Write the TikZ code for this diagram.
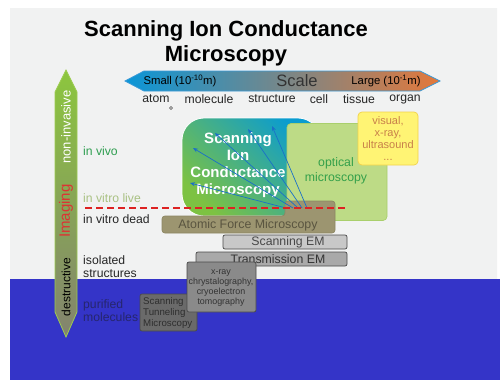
\documentclass[tikz,border=0pt]{standalone}
\usepackage{fontspec}
\setmainfont{Liberation Sans}
\usetikzlibrary{arrows.meta}
\definecolor{panelgray}{HTML}{F1F2F2}
\definecolor{bgblue}{HTML}{3434C8}
\definecolor{scaleblue}{HTML}{0A96D8}
\definecolor{scalemid}{HTML}{7C8A88}
\definecolor{scaleorange}{HTML}{E4783A}
\definecolor{scaleedge}{HTML}{3A9AD8}
\definecolor{vgreen}{HTML}{8CC63E}
\definecolor{vgray}{HTML}{83836F}
\definecolor{vedge}{HTML}{9CCC50}
\definecolor{sicmgreen}{HTML}{7DC242}
\definecolor{sicmblue}{HTML}{0A9CD0}
\definecolor{optfill}{HTML}{BDDB86}
\definecolor{optedge}{HTML}{A9CF6C}
\definecolor{opttext}{HTML}{34A04A}
\definecolor{visfill}{HTML}{FFF474}
\definecolor{visedge}{HTML}{F2D24A}
\definecolor{vistext}{HTML}{C8804A}
\definecolor{afmfill}{HTML}{9C9570}
\definecolor{afmedge}{HTML}{8C8662}
\definecolor{afmtext}{HTML}{5A5540}
\definecolor{arrowblue}{HTML}{1A70C8}
\definecolor{dashred}{HTML}{DD2222}
\definecolor{vivogreen}{HTML}{2E9E50}
\definecolor{livegreen}{HTML}{A9C183}
\definecolor{navytext}{HTML}{26266E}
\definecolor{imgred}{HTML}{DD3333}
\definecolor{semfill}{HTML}{C8C8C8}
\definecolor{temfill}{HTML}{A9A9A9}
\definecolor{xrayfill}{HTML}{8A8A8A}
\definecolor{stmfill}{HTML}{6A6A6A}
\definecolor{emedge}{HTML}{4A4A4A}
\begin{document}
\begin{tikzpicture}[x=1pt,y=-1pt,
  fsz/.style={font=\fontsize{#1}{#1}\selectfont},
  scalelbl/.style={fsz=12.2, text=black!85, inner sep=0pt},
  sidelbl/.style={font=\fontsize{12.2}{12.8}\selectfont, anchor=west, align=left, inner sep=0pt},
  emstyle/.style={draw=emedge, fill=#1, rounded corners=2, line width=0.7, inner sep=0pt},
  probe/.style={draw=arrowblue, line width=0.7, -{Stealth[length=5pt,width=4pt]}}
]
\useasboundingbox (0,0) rectangle (500,380);
\fill[white] (0,0) rectangle (500,380);
\fill[panelgray] (10,8) -- (497,8) [rounded corners=10] -- (497,290) [sharp corners] -- (10,290) -- cycle;
\fill[bgblue] (10,279) rectangle (500,380);

% title
\node[font=\bfseries\fontsize{22}{25}\selectfont, align=center, inner sep=0pt] (title) at (226,43) {Scanning Ion Conductance\\Microscopy};

% scale arrow
\path[left color=scaleblue, middle color=scalemid, right color=scaleorange, draw=scaleedge, line width=0.8]
  (125,81) -- (144,71) -- (420,71) -- (440,81) -- (420,91) -- (144,91) -- cycle;
\node[fsz=11.3, inner sep=0pt] (small) at (180,81) {Small (10\textsuperscript{-10}m)};
\node[fsz=16.5, text=black!80, inner sep=0pt] (scale) at (297,81) {Scale};
\node[fsz=11.3, inner sep=0pt] (large) at (386,81) {Large (10\textsuperscript{-1}m)};

\node[scalelbl] (atom) at (156,99) {atom};
\node[scalelbl] (molecule) at (209,99) {molecule};
\node[scalelbl] (structure) at (272,99) {structure};
\node[scalelbl] (cell) at (319,99) {cell};
\node[scalelbl] (tissue) at (359,99) {tissue};
\node[scalelbl] (organ) at (405,99) {organ};
\draw[black!70, line width=0.6] (171,108) circle (1.5);

% vertical arrow
\path[top color=vgreen, bottom color=vgray, draw=vedge, line width=0.8]
  (66,70) -- (77,92) -- (77,312) -- (66,337) -- (55,312) -- (55,92) -- cycle;
\node[fsz=13, text=white, rotate=90, inner sep=0pt] (noninv) at (66,127) {non-invasive};
\node[fsz=15, text=imgred, rotate=90, inner sep=0pt] (imaging) at (66,211) {Imaging};
\node[fsz=12, text=black, rotate=90, inner sep=0pt] (destr) at (66,287) {destructive};

% side labels
\node[sidelbl, text=vivogreen] (invivo) at (83,151) {in vivo};
\node[sidelbl, text=livegreen] (invitrolive) at (83,198) {in vitro live};
\node[sidelbl, text=black!85] (invitrodead) at (83,219) {in vitro dead};
\node[sidelbl, text=black!85] (isolated) at (83,267) {isolated\\structures};
\node[sidelbl, text=navytext] (purified) at (83,311) {purified\\molecules};

% SICM box
\node[rounded corners=22, left color=sicmgreen, right color=sicmblue, shading angle=135,
  draw=white, line width=0.8,
  minimum width=138, minimum height=98, inner sep=0pt] (sicm) at (251,167) {};
% optical
\node[rounded corners=4, fill=optfill, draw=optedge, line width=0.7,
  minimum width=100, minimum height=97, inner sep=0pt] (optical) at (337,172) {};
\node[text=opttext, align=center, font=\fontsize{12.3}{15}\selectfont, inner sep=0pt] (opticaltxt) at (336,171) {optical\\microscopy};
% visual
\node[rounded corners=4, fill=visfill, draw=visedge, line width=0.7,
  minimum width=60, minimum height=53, inner sep=0pt] (visual) at (388,138.5) {};
\node[font=\fontsize{11}{12}\selectfont, text=vistext, align=center, inner sep=0pt] (visualtxt) at (388,139) {visual,\\x-ray,\\ultrasound\\...};

% SICM text
\node[font=\bfseries\fontsize{15}{17}\selectfont, text=white, align=center, inner sep=0pt] (sicmtxt) at (238,165.5) {Scanning\\Ion\\Conductance\\Microscopy};

% AFM
\path[fill=afmfill, draw=afmedge, line width=0.7, rounded corners=3]
  (162,216) -- (285,216) -- (285,201) -- (335,201) -- (335,233) -- (162,233) -- cycle;
\node[fsz=12.4, text=afmtext, inner sep=0pt] (afm) at (248,225) {Atomic Force Microscopy};

% probe arrows
\coordinate (o1) at (286,208);
\coordinate (o2) at (293,208);
\coordinate (o3) at (298,208);
\coordinate (o4) at (302,208);
\coordinate (o5) at (307,208);
\coordinate (t1) at (190,183);
\coordinate (t2) at (193,148);
\coordinate (t3) at (215,133);
\coordinate (t4) at (248,129);
\coordinate (t5) at (272,126);
\draw[probe] (o1) -- (t1);
\draw[probe] (o2) -- (t2);
\draw[probe] (o3) -- (t3);
\draw[probe] (o4) -- (t4);
\draw[probe] (o5) -- (t5);

% red dashed line
\coordinate (d1) at (85,208);
\coordinate (d2) at (347,208);
\draw[dashred, line width=1.4, dash pattern=on 6.5pt off 4.5pt] (d1) -- (d2);

% EM boxes
\node[emstyle=semfill, minimum width=124, minimum height=14] (sem) at (285,242) {};
\node[fsz=12.3, text=black!72, inner sep=0pt] (semtxt) at (288,242) {Scanning EM};
\node[emstyle=temfill, minimum width=151, minimum height=14] (tem) at (271.5,259) {};
\node[fsz=12.3, text=black!80, inner sep=0pt] (temtxt) at (278,259) {Transmission EM};

% STM (behind x-ray)
\node[emstyle=stmfill, minimum width=57, minimum height=37] (stm) at (168.5,312.5) {};
\node[font=\fontsize{9.7}{11}\selectfont, text=black!82, align=left, anchor=west, inner sep=0pt] (stmtxt) at (143,313) {Scanning\\Tunneling\\Microscopy};

% x-ray
\node[emstyle=xrayfill, minimum width=69, minimum height=50] (xray) at (221.5,287) {};
\node[font=\fontsize{8.9}{10}\selectfont, text=black!80, align=center, inner sep=0pt] (xraytxt) at (221,288) {x-ray\\chrystalography,\\cryoelectron\\tomography};
\end{tikzpicture}
\end{document}
